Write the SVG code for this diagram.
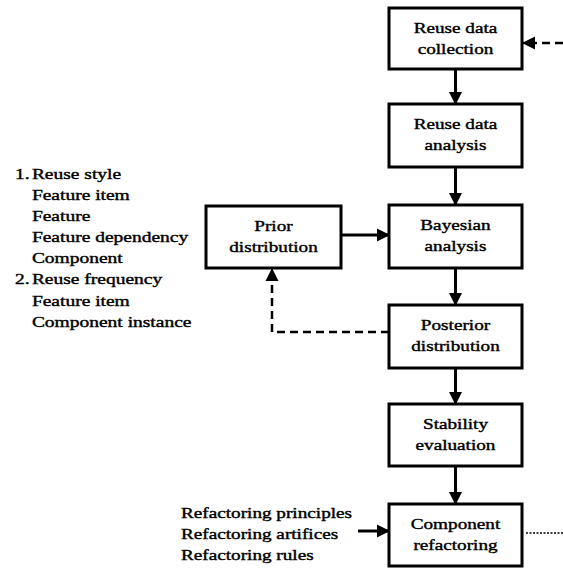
<svg xmlns="http://www.w3.org/2000/svg" width="563" height="569" viewBox="0 0 563 569">
  <style>
    .box { fill: #ffffff; stroke: #000000; stroke-width: 3; }
    .lbl { font-family: "Liberation Serif", "Times New Roman", serif; font-size: 15px; fill: #000000; stroke: #000000; stroke-width: 0.4; }
    .mid { text-anchor: middle; }
    .wire { fill: none; stroke: #000000; stroke-width: 3; }
    .dash { fill: none; stroke: #000000; stroke-width: 2.5; stroke-dasharray: 8 5; }
    .dot { fill: none; stroke: #000000; stroke-width: 1.5; stroke-dasharray: 2 1.5; }
  </style>
  <defs>
    <marker id="head" markerUnits="userSpaceOnUse" markerWidth="13" markerHeight="14" refX="12" refY="7" orient="auto">
      <path d="M0,0.5 L13,7 L0,13.5 Z" fill="#000000"/>
    </marker>
  </defs>
  <rect width="563" height="569" fill="#ffffff"/>

  <g id="connectors">
    <path class="wire" d="M455.5,69 V104" marker-end="url(#head)"/>
    <path class="wire" d="M455.5,167 V205" marker-end="url(#head)"/>
    <path class="wire" d="M455.5,268 V305" marker-end="url(#head)"/>
    <path class="wire" d="M455.5,368 V404" marker-end="url(#head)"/>
    <path class="wire" d="M455.5,466 V504" marker-end="url(#head)"/>
    <path class="wire" d="M341,235 H389" marker-end="url(#head)"/>
    <path class="wire" d="M358,531 H389" marker-end="url(#head)"/>
    <path class="dash" d="M563,43 H523" marker-end="url(#head)"/>
    <path class="dash" d="M389,332 H272 V269" marker-end="url(#head)"/>
    <path class="dot" d="M526,533 H563"/>
  </g>

  <g id="reuse-data-collection">
    <rect class="box" x="389" y="8" width="133" height="61"/>
    <g transform="translate(455.5 0) scale(1.28 1)">
      <text class="lbl mid" x="0" y="33">Reuse data</text>
      <text class="lbl mid" x="0" y="54">collection</text>
    </g>
  </g>

  <g id="reuse-data-analysis">
    <rect class="box" x="389" y="104" width="133" height="63"/>
    <g transform="translate(455.5 0) scale(1.28 1)">
      <text class="lbl mid" x="0" y="129">Reuse data</text>
      <text class="lbl mid" x="0" y="150">analysis</text>
    </g>
  </g>

  <g id="bayesian-analysis">
    <rect class="box" x="389" y="205" width="133" height="63"/>
    <g transform="translate(455.5 0) scale(1.28 1)">
      <text class="lbl mid" x="0" y="230">Bayesian</text>
      <text class="lbl mid" x="0" y="251">analysis</text>
    </g>
  </g>

  <g id="prior-distribution">
    <rect class="box" x="206" y="206" width="135" height="62"/>
    <g transform="translate(273.5 0) scale(1.28 1)">
      <text class="lbl mid" x="0" y="231">Prior</text>
      <text class="lbl mid" x="0" y="252">distribution</text>
    </g>
  </g>

  <g id="posterior-distribution">
    <rect class="box" x="389" y="305" width="133" height="63"/>
    <g transform="translate(455.5 0) scale(1.28 1)">
      <text class="lbl mid" x="0" y="330">Posterior</text>
      <text class="lbl mid" x="0" y="351">distribution</text>
    </g>
  </g>

  <g id="stability-evaluation">
    <rect class="box" x="389" y="404" width="133" height="62"/>
    <g transform="translate(455.5 0) scale(1.28 1)">
      <text class="lbl mid" x="0" y="429">Stability</text>
      <text class="lbl mid" x="0" y="450">evaluation</text>
    </g>
  </g>

  <g id="component-refactoring">
    <rect class="box" x="389" y="504" width="133" height="62"/>
    <g transform="translate(455.5 0) scale(1.28 1)">
      <text class="lbl mid" x="0" y="529">Component</text>
      <text class="lbl mid" x="0" y="550">refactoring</text>
    </g>
  </g>

  <g id="reuse-metrics">
    <g transform="translate(15 0) scale(1.3 1)">
      <text class="lbl" x="0" y="179">1.</text>
      <text class="lbl" x="13" y="179">Reuse style</text>
      <text class="lbl" x="13" y="200">Feature item</text>
      <text class="lbl" x="13" y="221">Feature</text>
      <text class="lbl" x="13" y="242.5">Feature dependency</text>
      <text class="lbl" x="13" y="263.5">Component</text>
      <text class="lbl" x="0" y="284.5">2.</text>
      <text class="lbl" x="13" y="284.5">Reuse frequency</text>
      <text class="lbl" x="13" y="306">Feature item</text>
      <text class="lbl" x="13" y="327">Component instance</text>
    </g>
  </g>

  <g id="refactoring-inputs">
    <g transform="translate(181 0) scale(1.28 1)">
      <text class="lbl" x="0" y="518">Refactoring principles</text>
      <text class="lbl" x="0" y="539">Refactoring artifices</text>
      <text class="lbl" x="0" y="560">Refactoring rules</text>
    </g>
  </g>
</svg>
